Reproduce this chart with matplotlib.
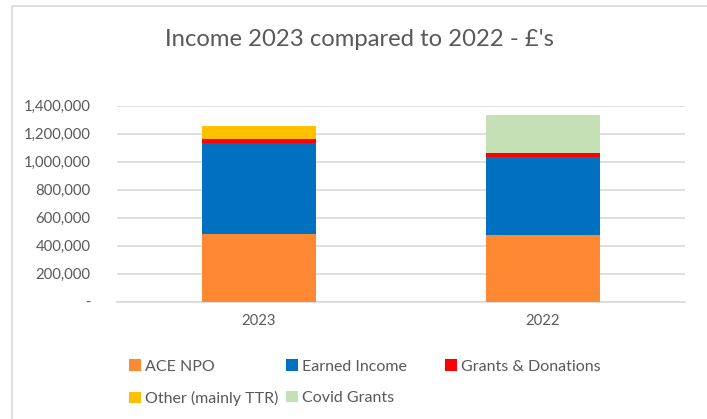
import matplotlib
matplotlib.use("Agg")
import matplotlib.pyplot as plt
from matplotlib.patches import Rectangle
from matplotlib.ticker import FuncFormatter
import numpy as np

plt.rcParams['font.family'] = ['Lato', 'DejaVu Sans']

years = ["2023", "2022"]
series_names = ["ACE NPO", "Earned Income", "Grants & Donations",
                "Other (mainly TTR)", "Covid Grants"]
ace_npo = [481000, 479000]
earned_income = [650000, 557000]
grants_donations = [33000, 24000]
other_ttr = [93000, 0]
covid_grants = [0, 271000]
series_values = [ace_npo, earned_income, grants_donations, other_ttr, covid_grants]
colors = ["#FF8833", "#0070C0", "#FF0000", "#FFC000", "#C5E0B4"]
y_ticks = [0, 200000, 400000, 600000, 800000, 1000000, 1200000, 1400000]

text_col = "#595959"
grid_col = "#D9D9D9"

fig = plt.figure(figsize=(7.07, 4.19), dpi=100)
fig.patch.set_facecolor("white")

# chart frame (top and left edges fall inside the canvas)
fig.add_artist(Rectangle((12 / 707, -0.1), 1.0, 1 - 6.5 / 419 + 0.1,
                         transform=fig.transFigure, fill=False,
                         edgecolor=grid_col, linewidth=1.2))

ax = fig.add_axes([117 / 707, 1 - 301.7 / 419, 568 / 707, (301.7 - 105.7) / 419])

x = np.arange(len(years))
bottom = np.zeros(len(years))
handles = []
for name, vals, col in zip(series_names, series_values, colors):
    b = ax.bar(x, vals, width=0.4, bottom=bottom, color=col, label=name,
               edgecolor="none", zorder=3)
    handles.append(b)
    bottom += np.array(vals)

ax.set_xlim(-0.5, 1.5)
ax.set_ylim(0, 1400000)
ax.set_xticks(x)
ax.set_xticklabels(years)
ax.set_yticks(y_ticks)
ax.yaxis.set_major_formatter(FuncFormatter(lambda v, p: "-" if v == 0 else f"{int(v):,}"))
ax.tick_params(axis='both', length=0, colors=text_col, labelsize=10.7)
ax.tick_params(axis='y', pad=19)
ax.tick_params(axis='x', pad=9)
ax.grid(axis='y', color=grid_col, linewidth=1.2, zorder=0)
for side in ["top", "right", "left"]:
    ax.spines[side].set_visible(False)
ax.spines["bottom"].set_color(grid_col)
ax.spines["bottom"].set_linewidth(1.2)

fig.text(359 / 707, 1 - 40 / 419, "Income 2023 compared to 2022 - £'s",
         ha="center", va="center", fontsize=17.2, color=text_col)

# legend entries flow left to right in two rows; each column placed on its own
columns = [([0, 3], 123), ([1, 4], 280), ([2], 439)]
for idxs, x_px in columns:
    fig.legend([handles[i] for i in idxs], [series_names[i] for i in idxs],
               ncol=1, loc="upper left", bbox_to_anchor=(x_px / 707, 1 - 353 / 419),
               frameon=False, fontsize=11.5, labelcolor=text_col,
               handlelength=0.7, handleheight=0.7, handletextpad=0.3,
               labelspacing=1.1, borderaxespad=0)

fig.savefig("out.png", dpi=100)
